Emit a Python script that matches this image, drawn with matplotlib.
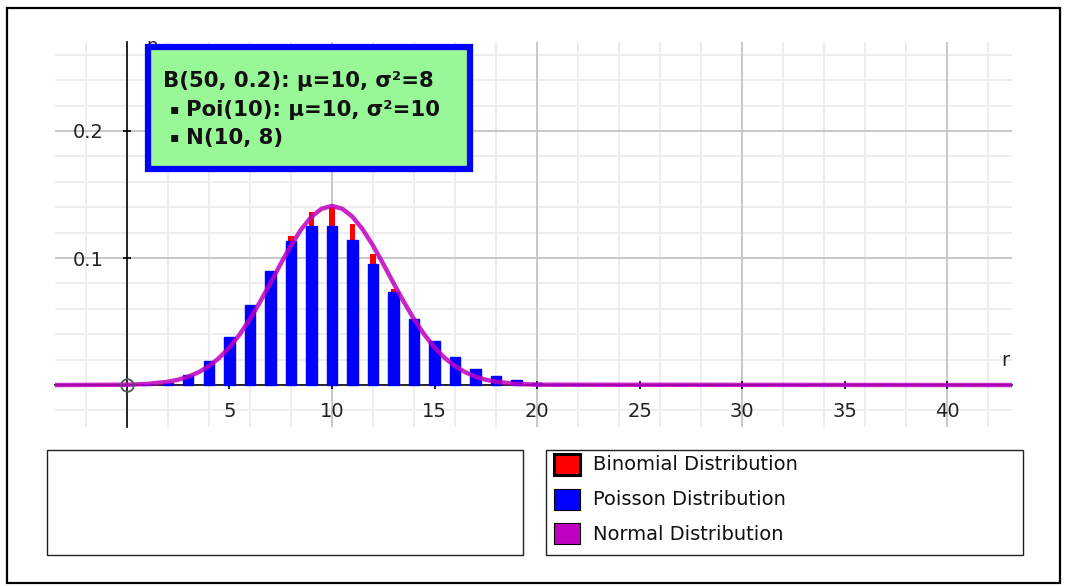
import matplotlib
matplotlib.use("Agg")
import matplotlib.pyplot as plt
from matplotlib.patches import Rectangle

W, H = 1065, 586

# values
poisson_k = list(range(0, 44))
poisson_p = [0.000, 0.0005, 0.002, 0.008, 0.019, 0.038, 0.063, 0.090, 0.113, 0.125,
             0.125, 0.114, 0.095, 0.073, 0.052, 0.035, 0.022, 0.013, 0.007, 0.004,
             0.002, 0.001, 0.0005, 0.0003] + [0.0] * 20

binom_k = list(range(0, 21))
binom_p = [0.000, 0.000, 0.001, 0.004, 0.013, 0.030, 0.055, 0.087, 0.117, 0.136,
           0.140, 0.127, 0.103, 0.076, 0.050, 0.030, 0.016, 0.008, 0.004, 0.002,
           0.001]

normal_x = [-3.5, 0, 1, 2, 2.5, 3, 3.5, 4, 4.5, 5, 5.5, 6, 6.5, 7, 7.5, 8, 8.5, 9, 9.5,
            10, 10.5, 11, 11.5, 12, 12.5, 13, 13.5, 14, 14.5, 15, 15.5, 16, 16.5, 17,
            17.5, 18, 19, 20, 43.2]
normal_y = [0.0, 0.0003, 0.0009, 0.0026, 0.0042, 0.0066, 0.0101, 0.0149, 0.0213,
            0.0296, 0.0398, 0.0519, 0.0656, 0.0803, 0.0954, 0.1098, 0.1225, 0.1325,
            0.1388, 0.1410, 0.1388, 0.1325, 0.1225, 0.1098, 0.0954, 0.0803, 0.0656,
            0.0519, 0.0398, 0.0296, 0.0213, 0.0149, 0.0101, 0.0066, 0.0042, 0.0026,
            0.0009, 0.0003, 0.0]

x_ticks = [5, 10, 15, 20, 25, 30, 35, 40]
y_ticks = [0.1, 0.2]

info_lines = ["B(50, 0.2): \u03bc=10, \u03c3\u00b2=8",
              "Poi(10): \u03bc=10, \u03c3\u00b2=10",
              "N(10, 8)"]
legend_labels = ["Binomial Distribution", "Poisson Distribution", "Normal Distribution"]
legend_colors = ["#ff0000", "#0000ff", "#c000c0"]


def fx(px):
    return px / W


def fy(py):
    return 1 - py / H


fig = plt.figure(figsize=(W / 100, H / 100), dpi=100)
fig.patch.set_facecolor("white")

ax = fig.add_axes([fx(55), fy(427), (1012 - 55) / W, (427 - 42) / H])
ax.set_xlim(-3.5, 43.15)
ax.set_ylim(-0.033, 0.270)

# grid
for gx in range(-2, 44, 2):
    if gx % 10 == 0:
        continue
    ax.axvline(gx, color="#ececec", lw=1.3, zorder=0)
for gy in [-0.02, 0.02, 0.04, 0.06, 0.08, 0.12, 0.14, 0.16, 0.18, 0.22, 0.24, 0.26]:
    ax.axhline(gy, color="#ececec", lw=1.3, zorder=0)
for gx in [10, 20, 30, 40]:
    ax.axvline(gx, color="#c4c4c4", lw=1.3, zorder=0.5)
for gy in [0.1, 0.2]:
    ax.axhline(gy, color="#c4c4c4", lw=1.3, zorder=0.5)

for s in ["top", "right"]:
    ax.spines[s].set_visible(False)
ax.spines["left"].set_position(("data", 0))
ax.spines["bottom"].set_position(("data", 0))
ax.spines["left"].set_linewidth(1.2)
ax.spines["bottom"].set_linewidth(1.2)
ax.spines["left"].set_zorder(1)
ax.spines["bottom"].set_zorder(1)

ax.set_xticks(x_ticks)
ax.set_xticklabels([str(t) for t in x_ticks])
ax.set_yticks(y_ticks)
ax.set_yticklabels([str(t) for t in y_ticks])
ax.tick_params(axis="both", direction="inout", length=6, width=1.2,
               labelsize=14, labelcolor="#222222")
ax.tick_params(axis="x", pad=9)
ax.tick_params(axis="y", pad=14)
for lab in ax.get_xticklabels() + ax.get_yticklabels():
    lab.set_family("DejaVu Sans")

ax.bar(binom_k, binom_p, width=0.27, color="#ff0000", zorder=2)
ax.bar(poisson_k, poisson_p, width=0.5, color="#0000ff", edgecolor="#0000ff",
       linewidth=1, zorder=3)
ax.plot(normal_x, normal_y, color="#c000c0", lw=3.2, alpha=0.85, zorder=4,
        solid_capstyle="butt")
ax.plot([0], [0], "o", mfc="none", mec="#555555", ms=9, mew=1.3, zorder=5)

ax.text(42.8, 0.0195, "r", fontsize=14, ha="center", va="center", color="#222222")
fig.text(fx(152), fy(37), "p", fontsize=13, ha="center", va="top", color="#222222",
         zorder=4)

# info box
fig.add_artist(Rectangle((fx(148), fy(169)), (470 - 148) / W, (169 - 47) / H,
                         transform=fig.transFigure, facecolor="#98f898",
                         edgecolor="#0000ff", linewidth=4.5, zorder=5))
fig.text(fx(163), fy(87), info_lines[0], fontsize=15.3, fontweight="bold",
         va="baseline", ha="left", color="#111111", zorder=6)
for i, line in enumerate(info_lines[1:]):
    base = 116 + 28 * i
    fig.text(fx(170), fy(base - 3), "\u25aa", fontsize=10, fontweight="bold",
             va="baseline", ha="left", color="#111111", zorder=6)
    fig.text(fx(186), fy(base), line, fontsize=15.3, fontweight="bold",
             va="baseline", ha="left", color="#111111", zorder=6)

# bottom boxes
fig.add_artist(Rectangle((fx(47), fy(555)), (523 - 47) / W, (555 - 450) / H,
                         transform=fig.transFigure, facecolor="white",
                         edgecolor="#222222", linewidth=1, zorder=2))
fig.add_artist(Rectangle((fx(546), fy(555)), (1023 - 546) / W, (555 - 450) / H,
                         transform=fig.transFigure, facecolor="white",
                         edgecolor="#222222", linewidth=1, zorder=2))
for i, (lab, col) in enumerate(zip(legend_labels, legend_colors)):
    top = 454 + 34.5 * i
    lw = 2.2 if i == 0 else 0.8
    fig.add_artist(Rectangle((fx(554), fy(top + 21)), 26 / W, 21 / H,
                             transform=fig.transFigure, facecolor=col,
                             edgecolor="black", linewidth=lw, zorder=3))
    fig.text(fx(593), fy(top + 11), lab, fontsize=14, va="center", ha="left",
             color="#111111", zorder=3)

# outer frame
fig.add_artist(Rectangle((fx(7), fy(583)), (1060 - 7) / W, (583 - 8) / H,
                         transform=fig.transFigure, facecolor="none",
                         edgecolor="black", linewidth=1.6, zorder=10))

fig.savefig("out.png", dpi=100)
